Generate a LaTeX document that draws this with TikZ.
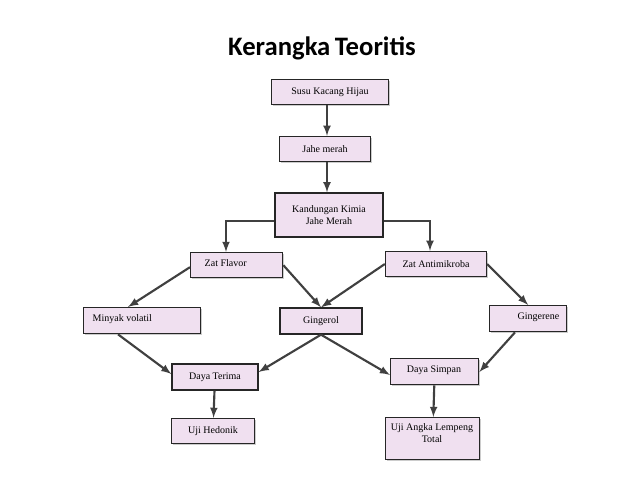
\documentclass[tikz,border=0pt]{standalone}
\usepackage{fontspec}
\setmainfont{Liberation Serif}
\newfontfamily\titlefont{Carlito}
\usetikzlibrary{positioning,shadows}
\tikzset{box/.style={draw=black!85,fill=violet!12,line width=1pt,font=\fontsize{7.5}{9}\selectfont,
    align=center,inner sep=2pt,drop shadow={shadow xshift=1pt,shadow yshift=-1pt,fill=black!40}},
  link/.style={draw=black!75,line width=1.6pt,-latex},
}
\begin{document}
\begin{tikzpicture}[x=0.75pt,y=-0.75pt]
	\useasboundingbox (0,0) rectangle (638,479);
	\node[font=\titlefont\bfseries\fontsize{20}{22}\selectfont] (title) at (322,48) {Kerangka\,Teoritis};
	\node[box,minimum width=87.75pt,minimum height=18.75pt] (susu) at (330,92) {Susu Kacang Hijau};
	\node[box,minimum width=68.25pt,minimum height=18.75pt] (jahe) at (325,149) {Jahe merah};
	\node[box,minimum width=81pt,minimum height=33pt] (kimia) at (329,215) {Kandungan Kimia\\Jahe Merah};
	\node[box,minimum width=69pt,minimum height=18.75pt,anchor=north west] (flavor) at (190,252) {};
	\node[anchor=west,font=\fontsize{7.5}{9}\selectfont] at (200,263) {Zat Flavor};
	\node[box,minimum width=75.75pt,minimum height=18.75pt] (anti) at (436,264) {Zat Antimikroba};
	\node[box,minimum width=87.75pt,minimum height=19.5pt,anchor=north west] (minyak) at (83,307) {};
	\node[anchor=west,font=\fontsize{7.5}{9}\selectfont] at (88,319) {Minyak volatil};
	\node[box,minimum width=61.5pt,minimum height=19.5pt] (ginger) at (321,321) {Gingerol};
	\node[box,minimum width=57.75pt,minimum height=19.5pt,anchor=north west] (gene) at (489,305) {};
	\node[anchor=north east,font=\fontsize{7.5}{9}\selectfont] at (564,308) {Gingerene};
	\node[box,minimum width=64.5pt,minimum height=19.5pt] (terima) at (215,377) {Daya Terima};
	\node[box,minimum width=66pt,minimum height=19.5pt,anchor=north west] (simpan) at (390,358) {};
	\node[anchor=north,font=\fontsize{7.5}{9}\selectfont] at (434,361) {Daya Simpan};
	\node[box,minimum width=62.25pt,minimum height=18.75pt] (hedonik) at (213,431) {Uji Hedonik};
	\node[box,minimum width=70.5pt,minimum height=31.5pt,anchor=north west] (uji) at (385,417) {};
	\node[anchor=north,font=\fontsize{7.5}{9}\selectfont,align=center] at (432,419) {Uji Angka Lempeng\\Total};

	\path[link] (susu.south -| 327,0) -- (jahe.north -| 327,0);
	\path[link] (jahe.south -| 327,0) -- (kimia.north -| 327,0);
	\path[link] (kimia.west |- 0,221) -| (flavor.north -| 226,0);
	\path[link] (kimia.east |- 0,221) -| (anti.north -| 430,0);
	\path[link] (flavor.west) ++(0,2) coordinate (f1) (f1) -- (minyak.north -| 128,0);
	\path[link] (flavor.east) -- (ginger.north);
	\path[link] (anti.west) -- (ginger.north);
	\path[link] (anti.east) -- (gene.north);
	\path[link] (minyak.south -| 118,0) -- (terima.west |- 0,374);
	\path[link] (ginger.south) -- (terima.east |- 0,372);
	\path[link] (ginger.south) -- (simpan.west |- 0,375);
	\path[link] (gene.south -| 515,0) -- (simpan.east |- 0,372);
	\path[link] (terima) -- (hedonik);
	\path[link] (simpan) -- (uji);
\end{tikzpicture}
\end{document}
